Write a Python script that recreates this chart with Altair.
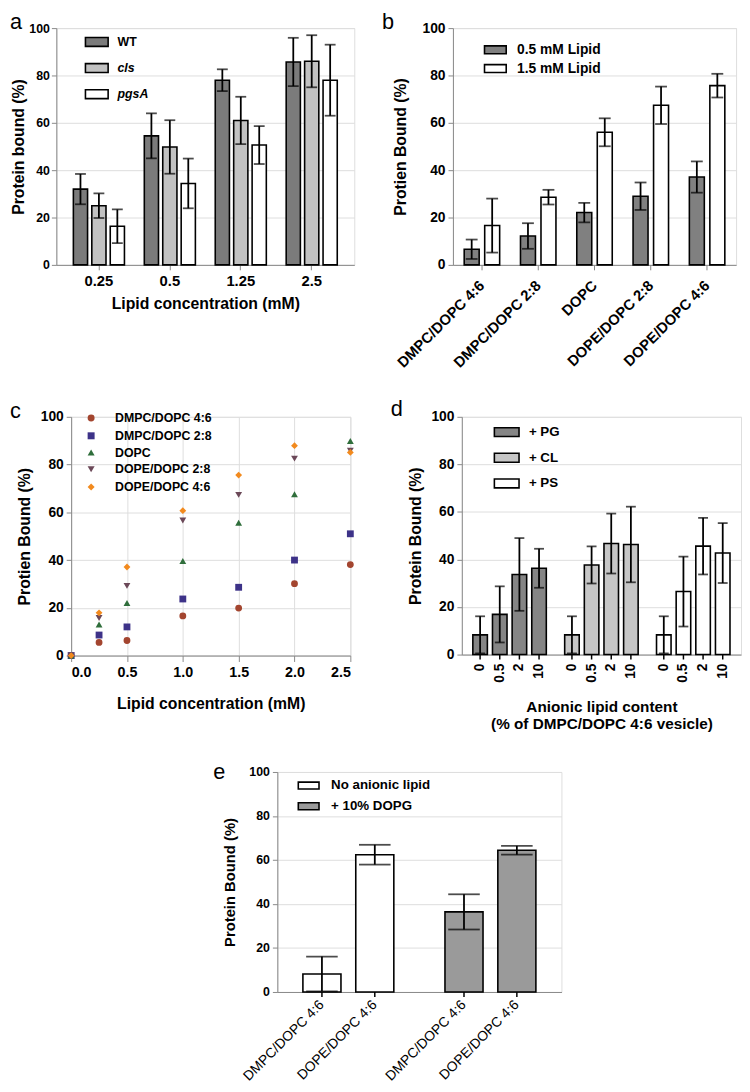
import altair as alt
import pandas as pd

FONT = "Liberation Sans"
Y_TICKS = [0, 20, 40, 60, 80, 100]

# ---------------- panel a ----------------
a_conc = ["0.25", "0.5", "1.25", "2.5"]
a_strains = ["WT", "cls", "pgsA"]
a_wt = [32.0, 54.5, 78.0, 85.7]
a_wt_err = [6.4, 9.5, 4.6, 10.2]
a_cls = [25.0, 49.8, 61.0, 86.0]
a_cls_err = [5.2, 11.3, 10.0, 11.0]
a_pgsa = [16.3, 34.4, 50.6, 78.0]
a_pgsa_err = [7.1, 10.5, 8.0, 15.0]
a_colors = ["#7b7b7b", "#c2c2c2", "#ffffff"]

# ---------------- panel b ----------------
b_lipids = ["DMPC/DOPC 4:6", "DMPC/DOPC 2:8", "DOPC", "DOPE/DOPC 2:8", "DOPE/DOPC 4:6"]
b_series = ["0.5 mM Lipid", "1.5 mM Lipid"]
b_low = [6.6, 12.2, 22.1, 29.0, 37.1]
b_low_err = [4.1, 5.4, 4.1, 5.8, 6.6]
b_high = [16.6, 28.6, 56.0, 67.4, 75.7]
b_high_err = [11.4, 3.1, 5.9, 7.9, 5.0]
b_colors = ["#808080", "#ffffff"]

# ---------------- panel c ----------------
c_conc = [0.0, 0.25, 0.5, 1.0, 1.5, 2.0, 2.5]
c_series = ["DMPC/DOPC 4:6", "DMPC/DOPC 2:8", "DOPC", "DOPE/DOPC 2:8", "DOPE/DOPC 4:6"]
c_dmpc46 = [0, 5.5, 6.3, 16.6, 19.9, 30.1, 38.1]
c_dmpc28 = [0, 8.6, 12.0, 23.7, 28.6, 40.0, 51.0]
c_dopc = [0, 13.0, 22.0, 39.6, 55.6, 67.6, 89.9]
c_dope28 = [0, 15.7, 29.2, 56.6, 67.3, 82.5, 85.8]
c_dope46 = [0, 17.9, 37.1, 60.7, 75.6, 87.9, 85.1]
c_colors = ["#a3452f", "#3d3288", "#2f6e3b", "#6b4858", "#f28a1e"]
c_shapes = ["circle", "square", "triangle-up", "triangle-down", "diamond"]

# ---------------- panel d ----------------
d_groups = ["+ PG", "+ CL", "+ PS"]
d_content = ["0", "0.5", "2", "10"]
d_pg = [8.3, 16.9, 33.7, 36.3]
d_pg_err = [7.8, 11.8, 15.3, 8.2]
d_cl = [8.3, 37.7, 46.7, 46.3]
d_cl_err = [7.8, 7.8, 12.6, 15.9]
d_ps = [8.3, 26.5, 45.6, 42.7]
d_ps_err = [7.8, 14.7, 11.9, 12.6]
d_colors = ["#858585", "#c6c6c6", "#ffffff"]

# ---------------- panel e ----------------
e_groups = ["No anionic lipid", "+ 10% DOPG"]
e_lipids = ["DMPC/DOPC 4:6", "DOPE/DOPC 4:6"]
e_none = [8.2, 62.4]
e_none_err = [7.9, 4.5]
e_dopg = [36.4, 64.4]
e_dopg_err = [8.0, 2.0]
e_colors = ["#ffffff", "#9a9a9a"]


def long_df(outer, inner, values, errs, outer_col, inner_col):
    rows = []
    for o, vals, es in zip(outer, values, errs):
        for i, v, e in zip(inner, vals, es):
            rows.append({outer_col: o, inner_col: i, "v": v, "lo": v - e, "hi": v + e})
    return pd.DataFrame(rows)


def rect_symbol(w, h):
    s = w / 2.0
    hy = h / s
    return f"M-2,-{hy:.3f}H2V{hy:.3f}H-2Z", s * s


def letter_layer(letter, dx, dy, size=22):
    return alt.Chart(pd.DataFrame({"t": [letter]})).mark_text(
        font=FONT, fontSize=size, align="left", baseline="alphabetic", color="black"
    ).encode(text="t:N", x=alt.value(dx), y=alt.value(dy))


def y_axis(title, label_size, title_size, title_pad, label_pad=3):
    return alt.Axis(title=title, values=Y_TICKS, labelFontSize=label_size,
                    labelFontWeight="bold", titleFontSize=title_size,
                    titlePadding=title_pad, labelPadding=label_pad)


def bar_legend(w, h, lx, ly, row_pad, label_off, label_size, style=None):
    path, size = rect_symbol(w, h)
    kw = dict(title=None, orient="none", legendX=lx, legendY=ly, symbolType=path,
              symbolSize=size, symbolStrokeColor="black", symbolStrokeWidth=1.6,
              symbolOpacity=1, rowPadding=row_pad, labelOffset=label_off,
              labelFontSize=label_size, labelFont=FONT, labelFontWeight="bold",
              labelColor="black")
    if style is not None:
        kw["labelFontStyle"] = style
    return alt.Legend(**kw)


def bar_layers(df, x, xo, color_field, color_dom, colors, legend, yax, cap, err_w=1.8):
    ysc = alt.Scale(domain=[0, 100], nice=False)
    base = alt.Chart(df)
    bars = base.mark_bar(stroke="black", strokeWidth=1.6).encode(
        x=x, xOffset=xo,
        y=alt.Y("v:Q", scale=ysc, axis=yax),
        color=alt.Color(f"{color_field}:N", sort=color_dom,
                        scale=alt.Scale(domain=color_dom, range=colors), legend=legend),
    )
    err = base.mark_rule(color="black", strokeWidth=err_w).encode(
        x=x, xOffset=xo, y=alt.Y("lo:Q", scale=ysc, axis=yax), y2="hi:Q")
    cap_lo = base.mark_tick(color="black", thickness=err_w, size=cap).encode(
        x=x, xOffset=xo, y=alt.Y("lo:Q", scale=ysc, axis=yax))
    cap_hi = base.mark_tick(color="black", thickness=err_w, size=cap).encode(
        x=x, xOffset=xo, y=alt.Y("hi:Q", scale=ysc, axis=yax))
    return [bars, err, cap_lo, cap_hi]


# ---------------- panel a ----------------
df_a = long_df(a_strains, a_conc, [a_wt, a_cls, a_pgsa],
               [a_wt_err, a_cls_err, a_pgsa_err], "s", "g")
W_A, H_A = 302, 240
x_a = alt.X("g:N", sort=a_conc,
            scale=alt.Scale(domain=a_conc, paddingInner=0.28, paddingOuter=0.24),
            axis=alt.Axis(title="Lipid concentration (mM)", labelAngle=0, labelFontSize=15,
                          labelFontWeight="bold", titleFontSize=16, labelPadding=4,
                          titlePadding=7))
xo_a = alt.XOffset("s:N", sort=a_strains,
                   scale=alt.Scale(domain=a_strains, paddingInner=0.23, paddingOuter=0))
layers_a = bar_layers(
    df_a, x_a, xo_a, "s", a_strains, a_colors,
    bar_legend(23, 9, 34, 7, 10.5, 14, 12.5,
               alt.ExprRef(expr="datum.label == 'WT' ? 'normal' : 'italic'")),
    y_axis("Protein bound (%)", 12.5, 16, 2, 2), 11)
panel_a = alt.layer(*layers_a, letter_layer("a", -47, 1, 22)).properties(width=W_A, height=H_A)

# ---------------- panel b ----------------
df_b = long_df(b_series, b_lipids, [b_low, b_high], [b_low_err, b_high_err], "s", "g")
W_B, H_B = 287, 240
x_b = alt.X("g:N", sort=b_lipids,
            scale=alt.Scale(domain=b_lipids, paddingInner=0.37, paddingOuter=0.2),
            axis=alt.Axis(title=None, labelAngle=-45, labelAlign="right",
                          labelBaseline="middle", labelFontSize=15,
                          labelFontWeight="bold", labelPadding=13))
xo_b = alt.XOffset("s:N", sort=b_series,
                   scale=alt.Scale(domain=b_series, paddingInner=0.27, paddingOuter=0))
layers_b = bar_layers(df_b, x_b, xo_b, "s", b_series, b_colors,
                      bar_legend(22, 8, 36, 15, 3, 15, 14),
                      y_axis("Protien Bound (%)", 14, 16, 14), 12)
panel_b = alt.layer(*layers_b, letter_layer("b", -72, 1, 22)).properties(width=W_B, height=H_B)

# ---------------- panel c ----------------
rows_c = []
for s, vals in zip(c_series, [c_dmpc46, c_dmpc28, c_dopc, c_dope28, c_dope46]):
    for xv, v in zip(c_conc, vals):
        rows_c.append({"x": xv, "v": v, "s": s})
df_c = pd.DataFrame(rows_c)
W_C, H_C = 283, 242
leg_c = alt.Legend(title=None, orient="none", legendX=14, legendY=-5, rowPadding=4,
                   labelOffset=18, labelFontSize=12.5, labelFont=FONT,
                   labelFontWeight="bold", labelColor="black", symbolSize=50,
                   symbolOpacity=1)
points_c = alt.Chart(df_c).mark_point(filled=True, size=48, opacity=1).encode(
    x=alt.X("x:Q", scale=alt.Scale(domain=[0, 2.5], nice=False),
            axis=alt.Axis(values=[0, 0.5, 1.0, 1.5, 2.0, 2.5], format=".1f",
                          title="Lipid concentration (mM)", labelFontSize=14.5,
                          labelFontWeight="bold", titleFontSize=16, labelPadding=4,
                          titlePadding=17, tickSize=6)),
    y=alt.Y("v:Q", scale=alt.Scale(domain=[0, 100], nice=False),
            axis=y_axis("Protien Bound (%)", 14, 16, 8)),
    color=alt.Color("s:N", sort=c_series, scale=alt.Scale(domain=c_series, range=c_colors),
                    legend=leg_c),
    shape=alt.Shape("s:N", sort=c_series, scale=alt.Scale(domain=c_series, range=c_shapes),
                    legend=leg_c),
)
panel_c = alt.layer(points_c, letter_layer("c", -62, 1, 22)).properties(width=W_C, height=H_C)

# ---------------- panel d ----------------
df_d = long_df(d_groups, d_content, [d_pg, d_cl, d_ps], [d_pg_err, d_cl_err, d_ps_err], "g", "s")
W_D, H_D = 283, 241
x_d = alt.X("g:N", sort=d_groups,
            scale=alt.Scale(domain=d_groups, paddingInner=0.2, paddingOuter=0.12),
            axis=alt.Axis(title=["Anionic lipid content", "(% of DMPC/DOPC 4:6 vesicle)"],
                          labels=False, ticks=False, titleFontSize=15.5,
                          titleLineHeight=17, titlePadding=46))
xo_d = alt.XOffset("s:N", sort=d_content,
                   scale=alt.Scale(domain=d_content, paddingInner=0.26, paddingOuter=0))
layers_d = bar_layers(df_d, x_d, xo_d, "g", d_groups, d_colors,
                      bar_legend(25, 9, 38, 8, 9, 15, 13.5),
                      y_axis("Protein Bound (%)", 14, 16, 8), 10)
base_d = alt.Chart(df_d)
ticks_d = base_d.mark_rule(color="black", strokeWidth=1.5).encode(
    x=x_d, xOffset=xo_d, y=alt.value(H_D), y2=alt.value(H_D + 5))
labels_d = base_d.mark_text(font=FONT, fontSize=14, fontWeight="bold", angle=270,
                            align="right", baseline="middle", color="black").encode(
    x=x_d, xOffset=xo_d, y=alt.value(H_D + 9), text="s:N")
panel_d = alt.layer(*layers_d, ticks_d, labels_d,
                    letter_layer("d", -72, -1, 22)).properties(width=W_D, height=H_D)

# ---------------- panel e ----------------
df_e = long_df(e_groups, e_lipids, [e_none, e_dopg], [e_none_err, e_dopg_err], "g", "s")
W_E, H_E = 288, 223
x_e = alt.X("g:N", sort=e_groups,
            scale=alt.Scale(domain=e_groups, paddingInner=0.36, paddingOuter=0.18),
            axis=alt.Axis(title=None, labels=False, ticks=False))
xo_e = alt.XOffset("s:N", sort=e_lipids,
                   scale=alt.Scale(domain=e_lipids, paddingInner=0.28, paddingOuter=0))
layers_e = bar_layers(df_e, x_e, xo_e, "g", e_groups, e_colors,
                      bar_legend(21, 7, 25, 7, 6, 16, 13.5),
                      y_axis("Protein Bound (%)", 12.5, 15, 12), 32)
base_e = alt.Chart(df_e)
ticks_e = base_e.mark_rule(color="black", strokeWidth=1.5).encode(
    x=x_e, xOffset=xo_e, y=alt.value(H_E), y2=alt.value(H_E + 5))
labels_e = base_e.mark_text(font=FONT, fontSize=14, fontWeight="normal", angle=315,
                            align="right", baseline="middle", color="black").encode(
    x=x_e, xOffset=xo_e, y=alt.value(H_E + 11), text="s:N")
panel_e = alt.layer(*layers_e, ticks_e, labels_e,
                    letter_layer("e", -65, 7, 22)).properties(width=W_E, height=H_E)


def spacer(w):
    return alt.Chart(pd.DataFrame({"z": [0]})).mark_rect(opacity=0).encode(
        x=alt.value(0), x2=alt.value(1), y=alt.value(0), y2=alt.value(1)
    ).properties(width=w, height=1,
                 view=alt.ViewBackground(stroke="transparent", fill="transparent",
                                         strokeWidth=0))


IND = dict(color="independent", shape="independent", xOffset="independent")
LEG = dict(color="independent", shape="independent")


def h(*charts, spacing):
    return alt.hconcat(*charts, spacing=spacing).resolve_scale(**IND).resolve_legend(**LEG)


row1 = h(spacer(1), h(panel_a, panel_b, spacing=26), spacing=0)
row2 = h(spacer(1), h(panel_c, panel_d, spacing=36), spacing=0)
row3 = h(spacer(207), panel_e, spacing=0)
top = alt.vconcat(row1, row2, spacing=26).resolve_scale(**IND).resolve_legend(**LEG)
chart = alt.vconcat(top, row3, spacing=28).resolve_scale(**IND).resolve_legend(**LEG)
chart = chart.properties(padding={"top": -5, "left": 0, "right": 0, "bottom": 0})

chart = chart.configure_view(stroke="transparent", strokeWidth=0).configure_axis(
    labelFont=FONT, titleFont=FONT, labelFontWeight="bold", titleFontWeight="bold",
    labelColor="black", titleColor="black", domainColor="black", tickColor="black",
    domainWidth=2, tickWidth=1.5, tickSize=5, grid=False,
).configure(background="white")

chart.save("out.html", embed_options={"renderer": "svg", "actions": False})
